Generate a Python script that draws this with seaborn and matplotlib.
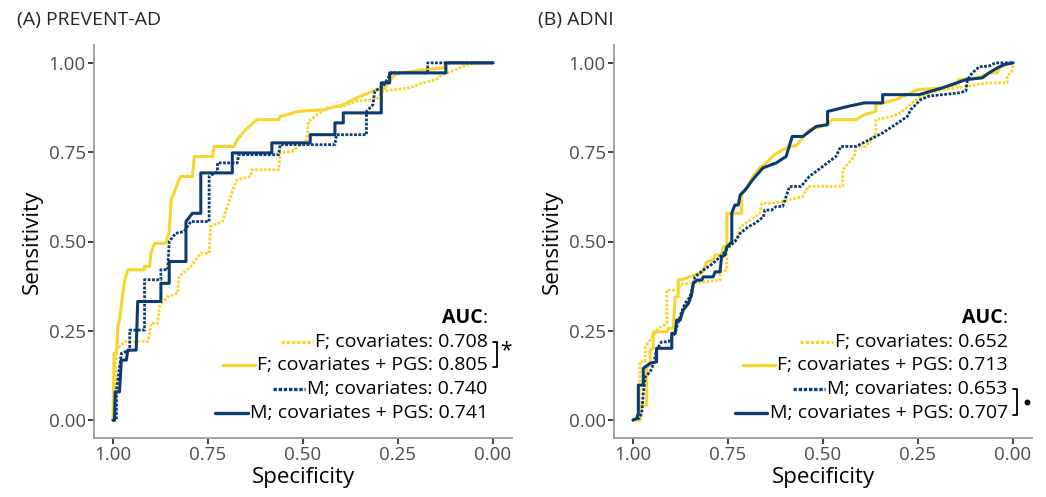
import numpy as np
import pandas as pd
import matplotlib
matplotlib.use("Agg")
import matplotlib.pyplot as plt
import seaborn as sns
from matplotlib.lines import Line2D

# ---------------- data (specificity, sensitivity) ----------------
# Panel A: PREVENT-AD
a_fcov_spec = [1.0, 0.996, 0.991, 0.969, 0.908, 0.904, 0.900, 0.882, 0.878, 0.856, 0.830, 0.826, 0.795, 0.769, 0.747, 0.743, 0.712, 0.699, 0.682, 0.673, 0.638, 0.634, 0.564, 0.560, 0.529, 0.490, 0.486, 0.438, 0.394, 0.359, 0.307, 0.289, 0.220, 0.185, 0.150, 0.133, 0.098, 0.071, 0.0]
a_fcov_sens = [0.0, 0.037, 0.196, 0.220, 0.220, 0.243, 0.271, 0.271, 0.318, 0.346, 0.355, 0.402, 0.430, 0.467, 0.467, 0.542, 0.556, 0.598, 0.654, 0.673, 0.682, 0.701, 0.701, 0.748, 0.752, 0.785, 0.836, 0.874, 0.879, 0.893, 0.897, 0.921, 0.930, 0.944, 0.953, 0.967, 0.981, 0.995, 1.0]

a_fpgs_spec = [1.0, 0.997, 0.991, 0.987, 0.983, 0.974, 0.969, 0.961, 0.917, 0.917, 0.904, 0.900, 0.891, 0.861, 0.852, 0.847, 0.839, 0.830, 0.821, 0.791, 0.786, 0.738, 0.734, 0.682, 0.673, 0.651, 0.621, 0.564, 0.560, 0.512, 0.446, 0.394, 0.359, 0.307, 0.289, 0.259, 0.241, 0.185, 0.128, 0.124, 0.0]
a_fpgs_sens = [0.0, 0.187, 0.187, 0.262, 0.280, 0.355, 0.393, 0.421, 0.421, 0.430, 0.430, 0.467, 0.495, 0.495, 0.528, 0.617, 0.636, 0.664, 0.682, 0.682, 0.738, 0.738, 0.766, 0.766, 0.785, 0.813, 0.841, 0.841, 0.850, 0.864, 0.869, 0.883, 0.902, 0.925, 0.925, 0.967, 0.972, 0.981, 0.986, 1.0, 1.0]

a_mcov_spec = [1.0, 0.991, 0.991, 0.978, 0.956, 0.956, 0.917, 0.917, 0.874, 0.874, 0.856, 0.852, 0.835, 0.813, 0.795, 0.747, 0.747, 0.725, 0.725, 0.673, 0.669, 0.564, 0.560, 0.416, 0.412, 0.333, 0.333, 0.316, 0.311, 0.289, 0.268, 0.172, 0.172, 0.0]
a_mcov_sens = [0.0, 0.0, 0.084, 0.187, 0.196, 0.252, 0.252, 0.393, 0.393, 0.421, 0.421, 0.500, 0.523, 0.528, 0.556, 0.556, 0.682, 0.696, 0.720, 0.720, 0.743, 0.743, 0.771, 0.771, 0.799, 0.799, 0.864, 0.883, 0.921, 0.935, 0.972, 0.972, 1.0, 1.0]

a_mpgs_spec = [1.0, 0.996, 0.994, 0.983, 0.978, 0.965, 0.961, 0.939, 0.935, 0.874, 0.874, 0.852, 0.852, 0.808, 0.808, 0.791, 0.769, 0.769, 0.686, 0.686, 0.582, 0.582, 0.481, 0.481, 0.416, 0.416, 0.394, 0.394, 0.294, 0.294, 0.272, 0.272, 0.124, 0.124, 0.0]
a_mpgs_sens = [0.0, 0.0, 0.079, 0.079, 0.168, 0.168, 0.196, 0.196, 0.332, 0.332, 0.383, 0.383, 0.444, 0.444, 0.556, 0.579, 0.579, 0.692, 0.692, 0.748, 0.748, 0.776, 0.776, 0.799, 0.799, 0.832, 0.832, 0.860, 0.860, 0.944, 0.944, 0.972, 0.972, 1.0, 1.0]

# Panel B: ADNI
b_fcov_spec = [1.0, 0.982, 0.982, 0.968, 0.968, 0.933, 0.911, 0.911, 0.881, 0.876, 0.771, 0.771, 0.753, 0.753, 0.740, 0.723, 0.718, 0.705, 0.666, 0.661, 0.635, 0.606, 0.588, 0.553, 0.540, 0.448, 0.448, 0.418, 0.413, 0.387, 0.361, 0.361, 0.335, 0.304, 0.286, 0.260, 0.234, 0.186, 0.116, 0.072, 0.015, 0.015, 0.002, 0.0]
b_fcov_sens = [0.0, 0.005, 0.163, 0.163, 0.205, 0.257, 0.271, 0.364, 0.364, 0.380, 0.392, 0.415, 0.420, 0.475, 0.490, 0.518, 0.541, 0.550, 0.579, 0.607, 0.607, 0.612, 0.617, 0.626, 0.654, 0.654, 0.701, 0.738, 0.766, 0.766, 0.804, 0.841, 0.846, 0.855, 0.869, 0.893, 0.911, 0.925, 0.935, 0.944, 0.944, 0.963, 0.977, 1.0]

b_fpgs_spec = [1.0, 0.982, 0.982, 0.964, 0.964, 0.955, 0.955, 0.947, 0.947, 0.911, 0.907, 0.894, 0.889, 0.881, 0.881, 0.859, 0.841, 0.819, 0.806, 0.789, 0.784, 0.767, 0.762, 0.753, 0.753, 0.714, 0.714, 0.697, 0.685, 0.663, 0.654, 0.628, 0.606, 0.567, 0.558, 0.536, 0.488, 0.475, 0.413, 0.391, 0.361, 0.361, 0.308, 0.251, 0.186, 0.151, 0.142, 0.094, 0.063, 0.041, 0.037, 0.011, 0.0]
b_fpgs_sens = [0.0, 0.0, 0.042, 0.042, 0.149, 0.154, 0.196, 0.201, 0.247, 0.247, 0.257, 0.257, 0.345, 0.345, 0.392, 0.397, 0.406, 0.411, 0.443, 0.448, 0.462, 0.462, 0.485, 0.485, 0.579, 0.579, 0.635, 0.654, 0.682, 0.710, 0.715, 0.743, 0.757, 0.771, 0.785, 0.813, 0.827, 0.841, 0.841, 0.855, 0.864, 0.883, 0.897, 0.925, 0.930, 0.939, 0.953, 0.958, 0.972, 0.972, 0.986, 0.998, 1.0]

b_mcov_spec = [1.0, 0.984, 0.977, 0.973, 0.968, 0.955, 0.947, 0.938, 0.925, 0.907, 0.889, 0.885, 0.872, 0.863, 0.850, 0.837, 0.815, 0.789, 0.758, 0.749, 0.732, 0.718, 0.697, 0.679, 0.657, 0.653, 0.635, 0.623, 0.606, 0.588, 0.558, 0.536, 0.501, 0.466, 0.453, 0.413, 0.378, 0.343, 0.317, 0.278, 0.269, 0.243, 0.221, 0.142, 0.124, 0.120, 0.107, 0.089, 0.063, 0.046, 0.0]
b_mcov_sens = [0.0, 0.005, 0.019, 0.075, 0.121, 0.135, 0.154, 0.196, 0.219, 0.219, 0.243, 0.261, 0.303, 0.327, 0.345, 0.401, 0.420, 0.439, 0.471, 0.485, 0.499, 0.523, 0.541, 0.551, 0.569, 0.588, 0.588, 0.598, 0.598, 0.654, 0.654, 0.682, 0.710, 0.738, 0.766, 0.766, 0.785, 0.804, 0.822, 0.850, 0.869, 0.897, 0.907, 0.916, 0.921, 0.953, 0.972, 0.989, 0.991, 1.0, 1.0]

b_mpgs_spec = [1.0, 0.990, 0.986, 0.986, 0.973, 0.973, 0.955, 0.938, 0.938, 0.898, 0.898, 0.889, 0.885, 0.876, 0.868, 0.854, 0.846, 0.841, 0.832, 0.819, 0.815, 0.789, 0.784, 0.771, 0.767, 0.758, 0.753, 0.740, 0.740, 0.732, 0.723, 0.718, 0.705, 0.685, 0.658, 0.623, 0.597, 0.581, 0.553, 0.518, 0.488, 0.488, 0.431, 0.391, 0.343, 0.343, 0.247, 0.186, 0.124, 0.081, 0.063, 0.041, 0.024, 0.0]
b_mpgs_sens = [0.0, 0.005, 0.019, 0.098, 0.098, 0.145, 0.159, 0.163, 0.201, 0.201, 0.243, 0.243, 0.280, 0.280, 0.308, 0.327, 0.350, 0.383, 0.392, 0.392, 0.401, 0.401, 0.415, 0.415, 0.457, 0.462, 0.485, 0.499, 0.579, 0.602, 0.602, 0.630, 0.644, 0.673, 0.706, 0.720, 0.738, 0.794, 0.794, 0.822, 0.827, 0.864, 0.879, 0.888, 0.888, 0.911, 0.911, 0.930, 0.953, 0.958, 0.972, 0.986, 0.995, 1.0]

model_labels = ["F; covariates", "F; covariates + PGS", "M; covariates", "M; covariates + PGS"]
auc_a = ["0.708", "0.805", "0.740", "0.741"]
auc_b = ["0.652", "0.713", "0.653", "0.707"]
panel_titles = ["(A) PREVENT-AD", "(B) ADNI"]
tick_vals = [1.0, 0.75, 0.5, 0.25, 0.0]
tick_labels = ["1.00", "0.75", "0.50", "0.25", "0.00"]

# ---------------- styling ----------------
YEL = "#F8D52E"
BLU = "#0A3B72"
colors = [YEL, YEL, BLU, BLU]
DOT = (0, (1.0, 0.55))
styles = [DOT, "-", DOT, "-"]
widths = [2.0, 2.2, 2.0, 2.2]

sns.set_theme(style="white")
plt.rcParams["font.family"] = ["Open Sans", "DejaVu Sans"]

fig = plt.figure(figsize=(10.46, 4.97), dpi=100)
W, H = 1046, 497
axA = fig.add_axes([94 / W, (H - 438) / H, 418 / W, 393 / H])
axB = fig.add_axes([614 / W, (H - 438) / H, 418 / W, 393 / H])

panels = [
    (axA, [(a_fcov_spec, a_fcov_sens), (a_fpgs_spec, a_fpgs_sens),
           (a_mcov_spec, a_mcov_sens), (a_mpgs_spec, a_mpgs_sens)], auc_a),
    (axB, [(b_fcov_spec, b_fcov_sens), (b_fpgs_spec, b_fpgs_sens),
           (b_mcov_spec, b_mcov_sens), (b_mpgs_spec, b_mpgs_sens)], auc_b),
]

for ax, series, aucs in panels:
    for i, (sp, se) in enumerate(series):
        df = pd.DataFrame({"Specificity": sp, "Sensitivity": se})
        sns.lineplot(data=df, x="Specificity", y="Sensitivity", sort=False,
                     estimator=None, color=colors[i], linestyle=styles[i],
                     linewidth=widths[i], ax=ax, legend=False)
    ax.set_xlim(1.05, -0.05)
    ax.set_ylim(-0.05, 1.05)
    ax.set_xticks(tick_vals)
    ax.set_xticklabels(tick_labels)
    ax.set_yticks(tick_vals)
    ax.set_yticklabels(tick_labels)
    for s in ["top", "right"]:
        ax.spines[s].set_visible(False)
    for s in ["left", "bottom"]:
        ax.spines[s].set_color("#9a9a9a")
        ax.spines[s].set_linewidth(1.3)
    ax.tick_params(axis="both", which="major", length=4, width=1.3,
                   color="#333333", labelcolor="#4d4d4d", labelsize=13.5,
                   pad=2, bottom=True, left=True)
    ax.set_xlabel("Specificity", fontsize=16, color="black", labelpad=2)
    ax.set_ylabel("Sensitivity", fontsize=16, color="black", labelpad=4)
    ax.grid(False)
    ax.set_facecolor("white")

fig.text(17 / W, 1 - 20 / H, panel_titles[0], fontsize=14, va="center", ha="left")
fig.text(538 / W, 1 - 20 / H, panel_titles[1], fontsize=14, va="center", ha="left")

fig.canvas.draw()
renderer = fig.canvas.get_renderer()

row_y = [0.245, 0.185, 0.124, 0.063]
auc_y = 0.305
x_right = 0.942
key_len = 0.077
gap = 0.005
LFS = 14

for ax, _, aucs in panels:
    inv = ax.transAxes.inverted()
    colon = ax.text(x_right, auc_y, ":", transform=ax.transAxes, ha="right",
                    va="center", fontsize=LFS, color="black")
    fig.canvas.draw()
    bb = colon.get_window_extent(renderer)
    left = inv.transform((bb.x0, bb.y0))[0]
    ax.text(left, auc_y, "AUC", transform=ax.transAxes, ha="right",
            va="center", fontsize=LFS, fontweight="bold", color="black")
    for i in range(4):
        t = ax.text(x_right, row_y[i], f"{model_labels[i]}: {aucs[i]}",
                    transform=ax.transAxes, ha="right", va="center",
                    fontsize=LFS, color="black")
        fig.canvas.draw()
        bb = t.get_window_extent(renderer)
        tl = inv.transform((bb.x0, bb.y0))[0]
        ax.add_line(Line2D([tl - gap - key_len, tl - gap], [row_y[i], row_y[i]],
                           transform=ax.transAxes, color=colors[i],
                           linestyle=styles[i], linewidth=2.4, clip_on=False))

def bracket(ax, y0, y1, x):
    xs = [x - 0.010, x, x, x - 0.010]
    ys = [y0, y0, y1, y1]
    ax.add_line(Line2D(xs, ys, transform=ax.transAxes, color="black",
                       linewidth=1.3, clip_on=False))

bracket(axA, 0.245, 0.180, 0.964)
axA.text(0.985, 0.222, "*", transform=axA.transAxes, ha="center",
         va="center", fontsize=15, color="black")
bracket(axB, 0.124, 0.058, 0.964)
axB.add_line(Line2D([0.989], [0.092], transform=axB.transAxes, marker="o",
                    markersize=3.2, color="black", linestyle="none",
                    clip_on=False))

fig.savefig("out.png", dpi=100, facecolor="white")
